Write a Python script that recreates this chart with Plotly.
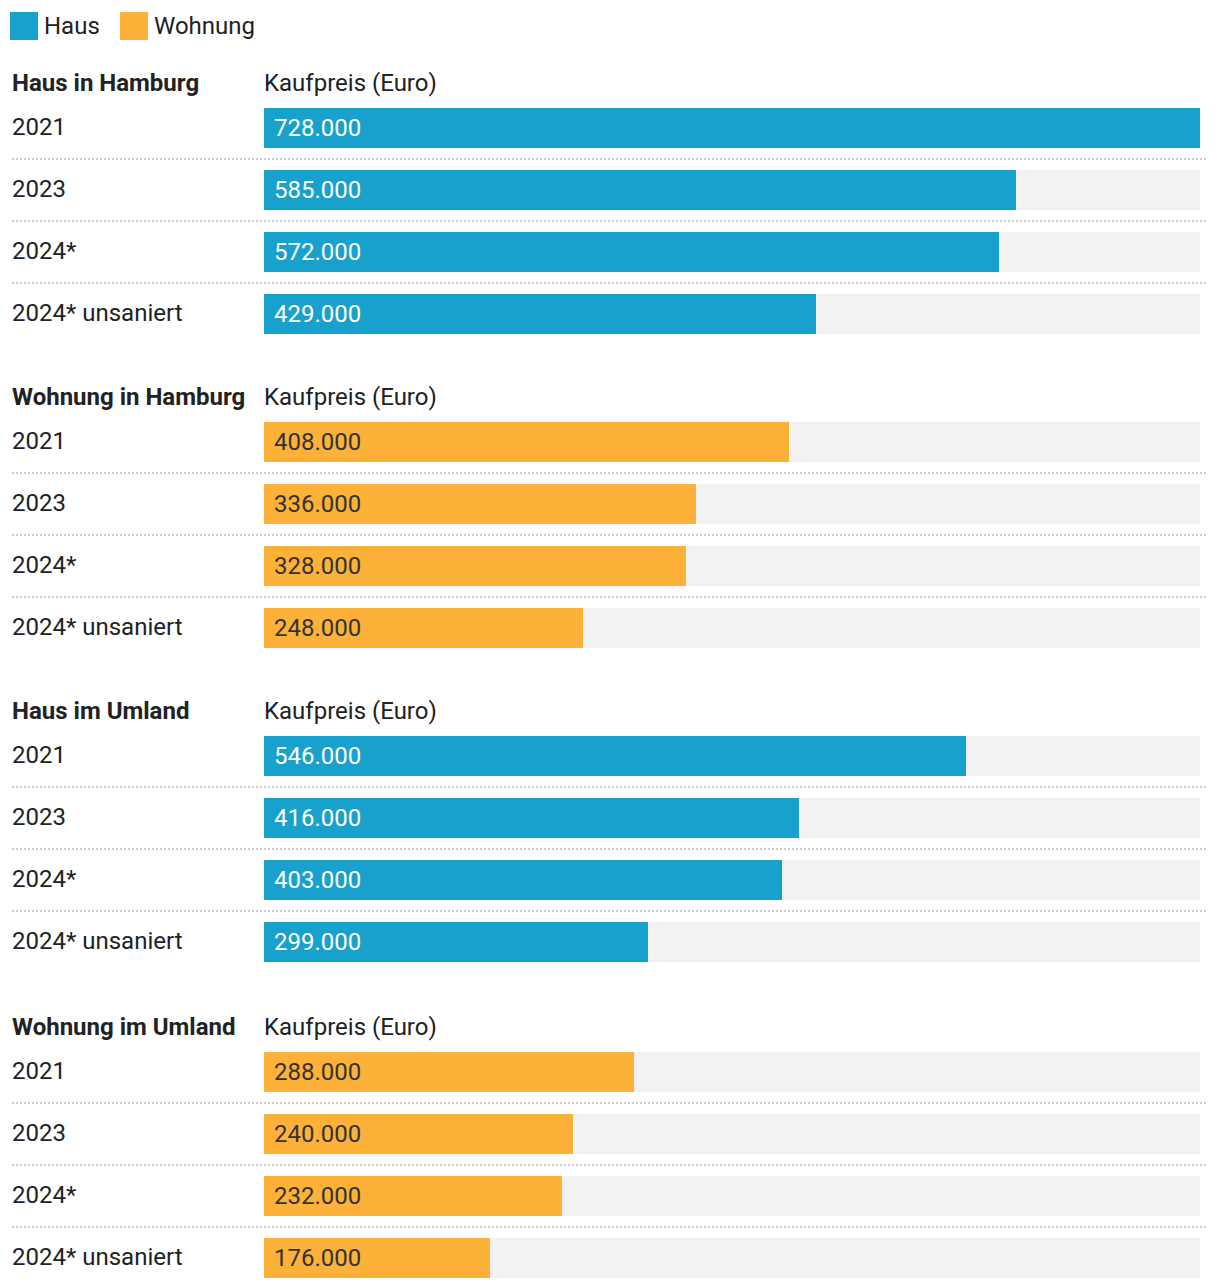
import plotly.graph_objects as go

# ---- data ----
sections = ["Haus in Hamburg", "Wohnung in Hamburg", "Haus im Umland", "Wohnung im Umland"]
section_type = ["Haus", "Wohnung", "Haus", "Wohnung"]
row_labels = ["2021", "2023", "2024*", "2024* unsaniert"]
haus_hamburg = [728000, 585000, 572000, 429000]
wohnung_hamburg = [408000, 336000, 328000, 248000]
haus_umland = [546000, 416000, 403000, 299000]
wohnung_umland = [288000, 240000, 232000, 176000]
values = [haus_hamburg, wohnung_hamburg, haus_umland, wohnung_umland]
column_title = "Kaufpreis (Euro)"
legend_items = ["Haus", "Wohnung"]

# ---- style / layout ----
OFF = 8                      # page body margin
W, H = 1220 - OFF, 1288 - OFF
FONT = "Roboto"
FS = 24
COLORS = {"Haus": "#19a1cd", "Wohnung": "#fdb139"}
TEXT_COLORS = {"Haus": "#ffffff", "Wohnung": "#333333"}
TRACK = "#f2f2f2"
X0, X1 = 264 - OFF, 1200 - OFF          # bar area in pixels
SECTION_FIRST_ROW = [128 - OFF, 442 - OFF, 756 - OFF, 1072 - OFF]
ROW_STEP = 62
BAR_H = 40
LEFT = 12 - OFF
max_val = max(max(v) for v in values)

def px(x):
    return x / W

fig = go.Figure()
annotations = []
shapes = []

for s, (title, typ, vals) in enumerate(zip(sections, section_type, values)):
    base_y = SECTION_FIRST_ROW[s]
    ys = [base_y + i * ROW_STEP for i in range(len(vals))]
    # track
    fig.add_trace(go.Bar(orientation="h", x=[max_val] * len(vals), y=ys, base=0,
                         width=BAR_H, marker=dict(color=TRACK, line=dict(width=0)),
                         hoverinfo="skip", showlegend=False))
    fig.add_trace(go.Bar(orientation="h", x=vals, y=ys, base=0, width=BAR_H,
                         marker=dict(color=COLORS[typ], line=dict(width=0)),
                         name=typ, showlegend=False))
    # headers
    hy = base_y - 45
    annotations.append(dict(x=px(LEFT), y=hy, xref="paper", yref="y", text="<b>%s</b>" % title,
                            showarrow=False, xanchor="left", yanchor="middle", xshift=-2,
                            font=dict(family=FONT, size=FS, color="#222222")))
    annotations.append(dict(x=0, y=hy, xref="x", yref="y", text=column_title,
                            showarrow=False, xanchor="left", yanchor="middle", xshift=-2,
                            font=dict(family=FONT, size=FS, color="#222222")))
    for i, (lab, v, y) in enumerate(zip(row_labels, vals, ys)):
        annotations.append(dict(x=px(LEFT), y=y - 1, xref="paper", yref="y", text=lab,
                                showarrow=False, xanchor="left", yanchor="middle", xshift=-2,
                                font=dict(family=FONT, size=FS, color="#222222")))
        annotations.append(dict(x=0, y=y, xref="x", yref="y", text=f"{v:,}".replace(",", "."),
                                showarrow=False, xanchor="left", yanchor="middle", xshift=8,
                                font=dict(family=FONT, size=FS, color=TEXT_COLORS[typ])))
        if i < len(vals) - 1:
            sep = y + ROW_STEP / 2
            shapes.append(dict(type="line", xref="paper", yref="y", x0=px(LEFT), x1=px(1208 - OFF),
                               y0=sep, y1=sep, line=dict(color="#cccccc", width=2, dash="2px,2px")))

# legend
for item, x_sq, x_txt in zip(legend_items, [10, 120], [44, 154]):
    shapes.append(dict(type="rect", xref="paper", yref="y", x0=px(x_sq - OFF), x1=px(x_sq - OFF + 28),
                       y0=12 - OFF, y1=40 - OFF, fillcolor=COLORS[item], line=dict(width=0)))
    annotations.append(dict(x=px(x_txt - OFF), y=26 - OFF, xref="paper", yref="y", text=item, showarrow=False,
                            xanchor="left", yanchor="middle", xshift=-2,
                            font=dict(family=FONT, size=FS, color="#222222")))

fig.update_layout(
    width=W, height=H, margin=dict(l=0, r=0, t=0, b=0),
    paper_bgcolor="white", plot_bgcolor="white",
    barmode="overlay", bargap=0,
    xaxis=dict(range=[0, max_val], domain=[px(X0), px(X1)], visible=False, fixedrange=True),
    yaxis=dict(range=[H, 0], domain=[0, 1], visible=False, fixedrange=True),
    annotations=annotations, shapes=shapes, showlegend=False,
    font=dict(family=FONT),
)

fig.write_html("out.html", config={"displayModeBar": False})
